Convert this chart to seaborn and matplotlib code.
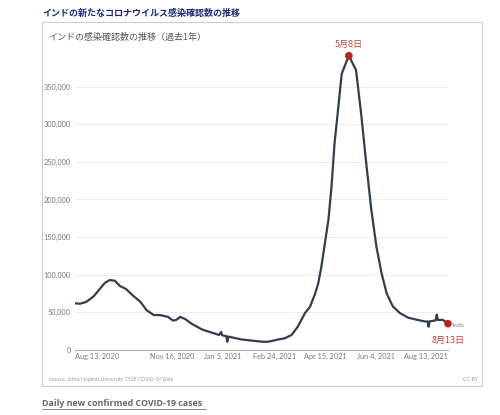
import matplotlib
matplotlib.use('Agg')
import matplotlib.pyplot as plt
from matplotlib.patches import Rectangle
from matplotlib.lines import Line2D
import seaborn as sns
import pandas as pd

# 7日平均の新規感染者数
dates = ['2020-08-13', '2020-08-18', '2020-08-24', '2020-08-31', '2020-09-05', '2020-09-11',
         '2020-09-16', '2020-09-21', '2020-09-26', '2020-10-02', '2020-10-09', '2020-10-16',
         '2020-10-22', '2020-10-29', '2020-11-04', '2020-11-12', '2020-11-17', '2020-11-20',
         '2020-11-24', '2020-11-29', '2020-12-05', '2020-12-15', '2020-12-25', '2021-01-01',
         '2021-01-03', '2021-01-04', '2021-01-08', '2021-01-09', '2021-01-10', '2021-01-13',
         '2021-01-23', '2021-02-02', '2021-02-12', '2021-02-18', '2021-02-28', '2021-03-06',
         '2021-03-13', '2021-03-19', '2021-03-26', '2021-03-31', '2021-04-05', '2021-04-08',
         '2021-04-11', '2021-04-14', '2021-04-18', '2021-04-21', '2021-04-24', '2021-04-27',
         '2021-05-01', '2021-05-05', '2021-05-08', '2021-05-15', '2021-05-20', '2021-05-25',
         '2021-05-30', '2021-06-04', '2021-06-09', '2021-06-14', '2021-06-20', '2021-06-27',
         '2021-07-05', '2021-07-11', '2021-07-21', '2021-07-24', '2021-07-25', '2021-07-26',
         '2021-08-01', '2021-08-02', '2021-08-03', '2021-08-08', '2021-08-13']
cases = [62000, 61500, 64000, 71000, 79000, 89000,
         93000, 92000, 85000, 81000, 72000, 64000,
         53000, 46500, 46500, 44000, 39000, 40000,
         44000, 41000, 35000, 27500, 23000, 20000,
         24000, 19500, 18500, 11000, 18000, 17000,
         14000, 12500, 11000, 11000, 14000, 15500,
         20000, 31000, 49000, 57500, 75000, 88500,
         110000, 137000, 173000, 217000, 275000, 314000,
         367000, 381000, 391000, 372000, 314000, 248000,
         186000, 137000, 102000, 75000, 58000, 49000,
         43000, 41000, 38000, 38000, 31000, 38000,
         39500, 47000, 40000, 40000, 35000]

tick_dates = ['2020-08-13', '2020-11-16', '2021-01-05', '2021-02-24',
              '2021-04-15', '2021-06-04', '2021-08-13']
tick_labels = ['Aug 13, 2020', 'Nov 16, 2020', 'Jan 5, 2021', 'Feb 24, 2021',
               'Apr 15, 2021', 'Jun 4, 2021', 'Aug 13, 2021']
y_ticks = [0, 50000, 100000, 150000, 200000, 250000, 300000, 350000]
highlight_dates = ['2021-05-08', '2021-08-13']
highlight_labels = ['5月8日', '8月13日']

df = pd.DataFrame({'date': pd.to_datetime(dates), 'cases': cases})

sns.set_style('white')
jp = ['Noto Sans CJK JP', 'DejaVu Sans']
plt.rcParams['font.family'] = ['Lato', 'DejaVu Sans']

fig = plt.figure(figsize=(5, 4.15), dpi=100)
ax = fig.add_axes([0.15, 0.1566, 0.746, 0.7254])

sns.lineplot(data=df, x='date', y='cases', ax=ax, color='#333d52', linewidth=1.6)

# 強調点
hl = df[df['date'].isin(pd.to_datetime(highlight_dates))]
sns.scatterplot(data=hl, x='date', y='cases', ax=ax, color='#b8231a', s=30,
                edgecolor='none', zorder=5)
ax.collections[-1].set_clip_on(False)
peak, last = hl.iloc[0], hl.iloc[1]
ax.annotate(highlight_labels[0], (peak['date'], peak['cases']), xytext=(0, 5),
            textcoords='offset points', ha='center', va='bottom', fontsize=6.5,
            color='#c0473a', family=jp)
ax.annotate(highlight_labels[1], (last['date'], last['cases']), xytext=(0, -9),
            textcoords='offset points', ha='center', va='top', fontsize=6.5,
            color='#c0473a', family=jp)
ax.annotate('India', (last['date'], last['cases']), xytext=(3, -1),
            textcoords='offset points', ha='left', va='center', fontsize=4,
            color='#888888')

ax.set_xlim(pd.Timestamp('2020-08-13'), pd.Timestamp('2021-08-13'))
ax.set_ylim(0, 400000)
ax.set_yticks(y_ticks)
ax.set_yticklabels([f'{v:,}' for v in y_ticks], fontsize=5.3, color='#777777')
ax.set_xticks(pd.to_datetime(tick_dates))
ax.set_xticklabels(tick_labels, fontsize=5.3, color='#777777')
labels = ax.get_xticklabels()
labels[0].set_ha('left')
labels[-1].set_ha('right')
ax.tick_params(axis='y', length=0, pad=3)
ax.tick_params(axis='x', length=3, width=0.6, color='#aaaaaa', pad=2, direction='in')
ax.set_xlabel('')
ax.set_ylabel('')
ax.grid(axis='y', color='#ececec', linewidth=0.7)
ax.grid(axis='x', visible=False)
for side in ['top', 'right', 'left']:
    ax.spines[side].set_visible(False)
ax.spines['bottom'].set_color('#aaaaaa')
ax.spines['bottom'].set_linewidth(0.8)

# 枠とテキスト
fig.add_artist(Rectangle((42 / 500, 1 - 386 / 415), 440 / 500, 364 / 415,
                         transform=fig.transFigure, fill=False,
                         edgecolor='#cccccc', linewidth=0.8))
fig.text(42 / 500, 1 - 13 / 415, 'インドの新たなコロナウイルス感染確認数の推移',
         family=jp, fontsize=6.5, fontweight='bold', color='#1f2a7a', va='center')
fig.text(48 / 500, 1 - 37 / 415, 'インドの感染確認数の推移（過去1年）',
         family=jp, fontsize=6.5, color='#555555', va='center')
fig.text(49 / 500, 1 - 379 / 415, 'Source: Johns Hopkins University CSSE COVID-19 Data',
         fontsize=3.6, color='#999999', va='center')
fig.text(478 / 500, 1 - 379 / 415, 'CC BY', fontsize=3.8, color='#999999',
         va='center', ha='right')
fig.text(42 / 500, 1 - 403 / 415, 'Daily new confirmed COVID-19 cases',
         family=['Open Sans', 'DejaVu Sans'], fontsize=6.4, fontweight='bold',
         color='#666666', va='center')
fig.add_artist(Line2D([42 / 500, 206 / 500], [1 - 408.5 / 415, 1 - 408.5 / 415],
                      transform=fig.transFigure, color='#888888', linewidth=0.7))

fig.savefig('out.png', dpi=100, facecolor='white')
